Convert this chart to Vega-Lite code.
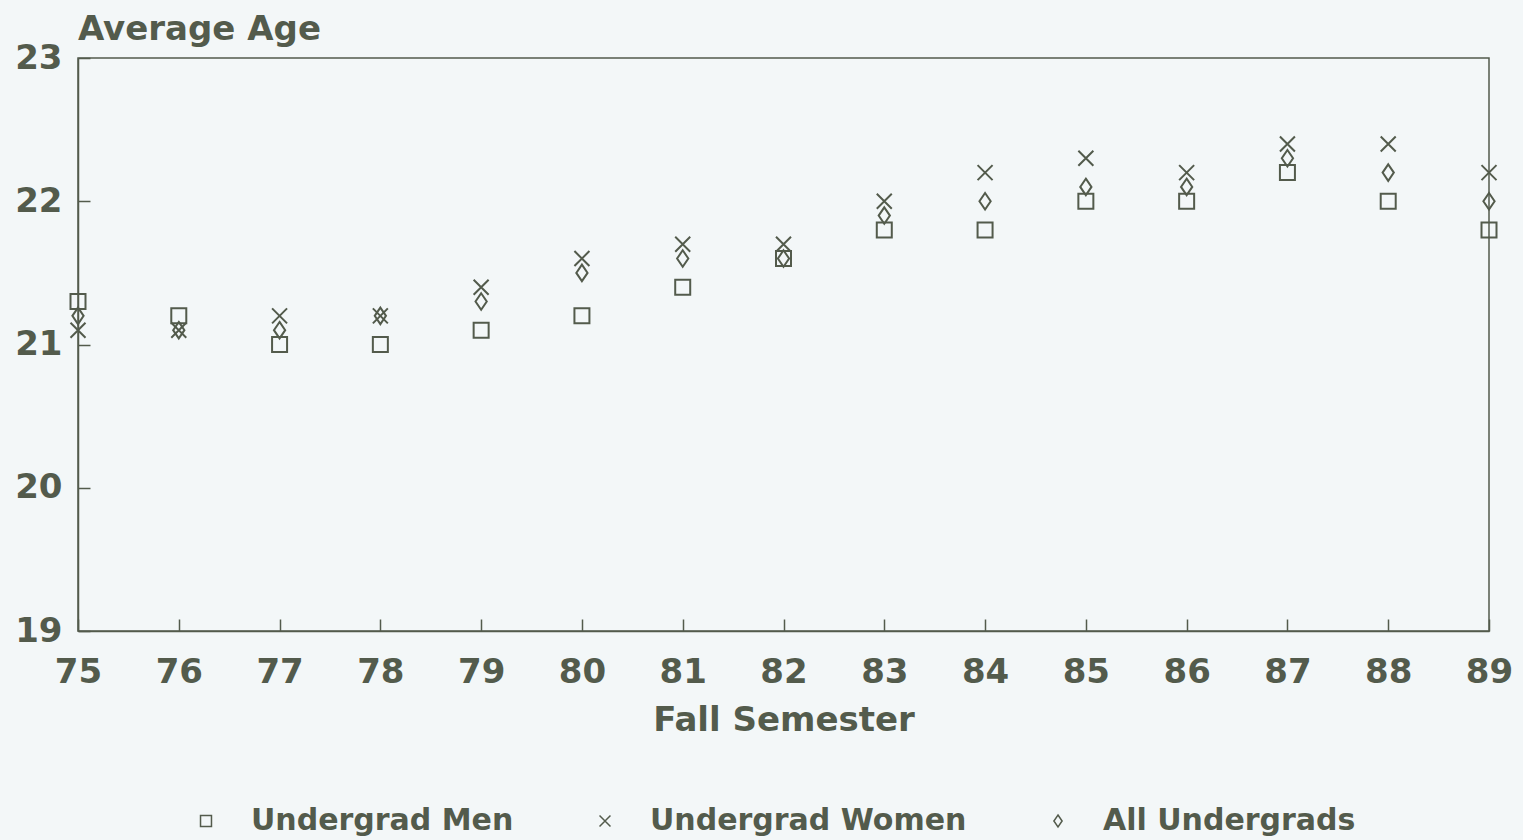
{
  "$schema": "https://vega.github.io/schema/vega-lite/v6.json",
  "autosize": "none",
  "width": 1411,
  "height": 573,
  "padding": {"left": 78, "top": 58, "right": 34, "bottom": 209},
  "background": "#f3f7f8",
  "title": {
    "text": "Average Age",
    "anchor": "start",
    "frame": "group",
    "font": "DejaVu Sans",
    "fontSize": 34,
    "fontWeight": "bold",
    "color": "#535b4c",
    "offset": -6
  },
  "config": {
    "view": {"stroke": "#535b4c", "strokeWidth": 1.5},
    "font": "DejaVu Sans"
  },
  "data": {
    "values": [
      {"year": 75, "group": "Undergrad Men", "age": 21.3},
      {"year": 75, "group": "Undergrad Women", "age": 21.1},
      {"year": 75, "group": "All Undergrads", "age": 21.2},
      {"year": 76, "group": "Undergrad Men", "age": 21.2},
      {"year": 76, "group": "Undergrad Women", "age": 21.1},
      {"year": 76, "group": "All Undergrads", "age": 21.1},
      {"year": 77, "group": "Undergrad Men", "age": 21.0},
      {"year": 77, "group": "Undergrad Women", "age": 21.2},
      {"year": 77, "group": "All Undergrads", "age": 21.1},
      {"year": 78, "group": "Undergrad Men", "age": 21.0},
      {"year": 78, "group": "Undergrad Women", "age": 21.2},
      {"year": 78, "group": "All Undergrads", "age": 21.2},
      {"year": 79, "group": "Undergrad Men", "age": 21.1},
      {"year": 79, "group": "Undergrad Women", "age": 21.4},
      {"year": 79, "group": "All Undergrads", "age": 21.3},
      {"year": 80, "group": "Undergrad Men", "age": 21.2},
      {"year": 80, "group": "Undergrad Women", "age": 21.6},
      {"year": 80, "group": "All Undergrads", "age": 21.5},
      {"year": 81, "group": "Undergrad Men", "age": 21.4},
      {"year": 81, "group": "Undergrad Women", "age": 21.7},
      {"year": 81, "group": "All Undergrads", "age": 21.6},
      {"year": 82, "group": "Undergrad Men", "age": 21.6},
      {"year": 82, "group": "Undergrad Women", "age": 21.7},
      {"year": 82, "group": "All Undergrads", "age": 21.6},
      {"year": 83, "group": "Undergrad Men", "age": 21.8},
      {"year": 83, "group": "Undergrad Women", "age": 22.0},
      {"year": 83, "group": "All Undergrads", "age": 21.9},
      {"year": 84, "group": "Undergrad Men", "age": 21.8},
      {"year": 84, "group": "Undergrad Women", "age": 22.2},
      {"year": 84, "group": "All Undergrads", "age": 22.0},
      {"year": 85, "group": "Undergrad Men", "age": 22.0},
      {"year": 85, "group": "Undergrad Women", "age": 22.3},
      {"year": 85, "group": "All Undergrads", "age": 22.1},
      {"year": 86, "group": "Undergrad Men", "age": 22.0},
      {"year": 86, "group": "Undergrad Women", "age": 22.2},
      {"year": 86, "group": "All Undergrads", "age": 22.1},
      {"year": 87, "group": "Undergrad Men", "age": 22.2},
      {"year": 87, "group": "Undergrad Women", "age": 22.4},
      {"year": 87, "group": "All Undergrads", "age": 22.3},
      {"year": 88, "group": "Undergrad Men", "age": 22.0},
      {"year": 88, "group": "Undergrad Women", "age": 22.4},
      {"year": 88, "group": "All Undergrads", "age": 22.2},
      {"year": 89, "group": "Undergrad Men", "age": 21.8},
      {"year": 89, "group": "Undergrad Women", "age": 22.2},
      {"year": 89, "group": "All Undergrads", "age": 22.0}
    ]
  },
  "mark": {"type": "point", "filled": false, "color": "#535b4c", "opacity": 1, "strokeWidth": 2, "size": 225, "clip": false},
  "encoding": {
    "x": {
      "field": "year",
      "type": "quantitative",
      "scale": {"domain": [75, 89], "nice": false, "zero": false},
      "axis": {
        "values": [75, 76, 77, 78, 79, 80, 81, 82, 83, 84, 85, 86, 87, 88, 89],
        "grid": false,
        "title": "Fall Semester",
        "titleFont": "DejaVu Sans",
        "titleFontSize": 34,
        "titleFontWeight": "bold",
        "titleColor": "#535b4c",
        "titlePadding": 14,
        "labelFont": "DejaVu Sans",
        "labelFontSize": 34,
        "labelFontWeight": "bold",
        "labelColor": "#535b4c",
        "labelFlush": false,
        "labelOverlap": false,
        "labelPadding": 36,
        "tickSize": -12,
        "tickColor": "#535b4c",
        "tickWidth": 1.5,
        "domainColor": "#535b4c",
        "domainWidth": 1.5
      }
    },
    "y": {
      "field": "age",
      "type": "quantitative",
      "scale": {"domain": [19, 23], "nice": false, "zero": false},
      "axis": {
        "values": [19, 20, 21, 22, 23],
        "grid": false,
        "title": null,
        "labelFont": "DejaVu Sans",
        "labelFontSize": 34,
        "labelFontWeight": "bold",
        "labelColor": "#535b4c",
        "labelPadding": 28,
        "tickSize": -12,
        "tickColor": "#535b4c",
        "tickWidth": 1.5,
        "domainColor": "#535b4c",
        "domainWidth": 1.5
      }
    },
    "shape": {
      "field": "group",
      "type": "nominal",
      "scale": {
        "domain": ["Undergrad Men", "Undergrad Women", "All Undergrads"],
        "range": ["M-1,-1H1V1H-1Z", "M-1,-1L1,1M-1,1L1,-1", "M0,-1.1L0.75,0L0,1.1L-0.75,0Z"]
      },
      "legend": {
        "title": null,
        "orient": "none",
        "legendX": 113,
        "legendY": 748,
        "direction": "horizontal",
        "columns": 3,
        "columnPadding": 76,
        "padding": 0,
        "symbolSize": 120,
        "symbolStrokeWidth": 1.5,
        "symbolStrokeColor": "#535b4c",
        "symbolFillColor": "transparent",
        "symbolOpacity": 1,
        "labelFont": "DejaVu Sans",
        "labelFontSize": 30,
        "labelFontWeight": "bold",
        "labelColor": "#535b4c",
        "labelOffset": 30,
        "labelLimit": 0
      }
    }
  }
}
